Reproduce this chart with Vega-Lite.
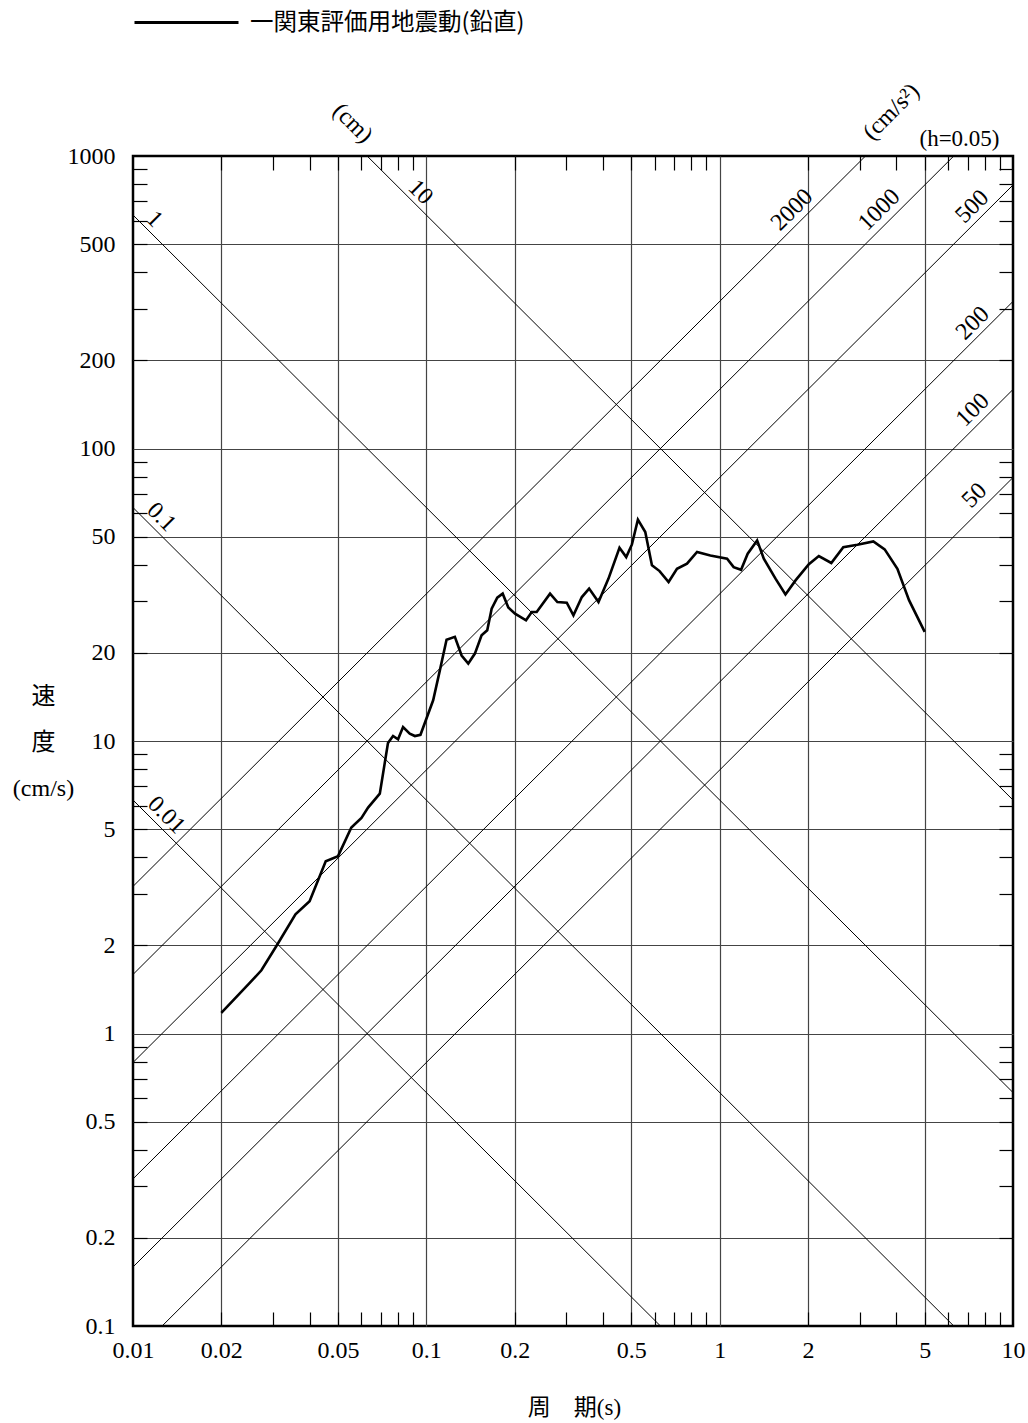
{
  "$schema": "https://vega.github.io/schema/vega-lite/v6.json",
  "width": 880,
  "height": 1170,
  "autosize": {"type": "none"},
  "padding": {"left": 133, "top": 156, "right": 15, "bottom": 97},
  "background": "white",
  "config": {
    "view": {"stroke": "black", "strokeWidth": 2.5},
    "font": "Liberation Serif",
    "axis": {"labelColor": "black", "titleColor": "black"}
  },
  "datasets": {
    "diag": [
      {"line": "D0.01", "T": 0.01, "V": 6.283},
      {"line": "D0.01", "T": 0.6283, "V": 0.1},
      {"line": "D0.1", "T": 0.01, "V": 62.83},
      {"line": "D0.1", "T": 6.283, "V": 0.1},
      {"line": "D1", "T": 0.01, "V": 628.3},
      {"line": "D1", "T": 10, "V": 0.6283},
      {"line": "D10", "T": 0.06283, "V": 1000},
      {"line": "D10", "T": 10, "V": 6.283},
      {"line": "A50", "T": 0.012566, "V": 0.1},
      {"line": "A50", "T": 10, "V": 79.58},
      {"line": "A100", "T": 0.01, "V": 0.15915},
      {"line": "A100", "T": 10, "V": 159.15},
      {"line": "A200", "T": 0.01, "V": 0.3183},
      {"line": "A200", "T": 10, "V": 318.3},
      {"line": "A500", "T": 0.01, "V": 0.7958},
      {"line": "A500", "T": 10, "V": 795.8},
      {"line": "A1000", "T": 0.01, "V": 1.5915},
      {"line": "A1000", "T": 6.283, "V": 1000},
      {"line": "A2000", "T": 0.01, "V": 3.183},
      {"line": "A2000", "T": 3.1416, "V": 1000}
    ],
    "curve": [
      {"series": "一関東評価用地震動(鉛直)", "T": 0.02, "V": 1.176},
      {"series": "一関東評価用地震動(鉛直)", "T": 0.025, "V": 1.489},
      {"series": "一関東評価用地震動(鉛直)", "T": 0.0274, "V": 1.645},
      {"series": "一関東評価用地震動(鉛直)", "T": 0.0309, "V": 2.0},
      {"series": "一関東評価用地震動(鉛直)", "T": 0.0358, "V": 2.557},
      {"series": "一関東評価用地震動(鉛直)", "T": 0.04, "V": 2.832},
      {"series": "一関東評価用地震動(鉛直)", "T": 0.0454, "V": 3.88},
      {"series": "一関東評価用地震動(鉛直)", "T": 0.05, "V": 4.04},
      {"series": "一関東評価用地震動(鉛直)", "T": 0.0555, "V": 5.06},
      {"series": "一関東評価用地震動(鉛直)", "T": 0.0601, "V": 5.46},
      {"series": "一関東評価用地震動(鉛直)", "T": 0.0633, "V": 5.92},
      {"series": "一関東評価用地震動(鉛直)", "T": 0.0694, "V": 6.61},
      {"series": "一関東評価用地震動(鉛直)", "T": 0.074, "V": 9.84},
      {"series": "一関東評価用地震動(鉛直)", "T": 0.077, "V": 10.4},
      {"series": "一関東評価用地震動(鉛直)", "T": 0.0801, "V": 10.13},
      {"series": "一関東評価用地震動(鉛直)", "T": 0.0833, "V": 11.16},
      {"series": "一関東評価用地震動(鉛直)", "T": 0.0878, "V": 10.6},
      {"series": "一関東評価用地震動(鉛直)", "T": 0.0914, "V": 10.4},
      {"series": "一関東評価用地震動(鉛直)", "T": 0.0955, "V": 10.5},
      {"series": "一関東評価用地震動(鉛直)", "T": 0.1055, "V": 13.78},
      {"series": "一関東評価用地震動(鉛直)", "T": 0.1112, "V": 17.44},
      {"series": "一関東評価用地震動(鉛直)", "T": 0.1172, "V": 22.2},
      {"series": "一関東評価用地震動(鉛直)", "T": 0.1251, "V": 22.7},
      {"series": "一関東評価用地震動(鉛直)", "T": 0.1319, "V": 19.6},
      {"series": "一関東評価用地震動(鉛直)", "T": 0.139, "V": 18.4},
      {"series": "一関東評価用地震動(鉛直)", "T": 0.1464, "V": 19.9},
      {"series": "一関東評価用地震動(鉛直)", "T": 0.1543, "V": 22.97},
      {"series": "一関東評価用地震動(鉛直)", "T": 0.1613, "V": 23.9},
      {"series": "一関東評価用地震動(鉛直)", "T": 0.167, "V": 28.35},
      {"series": "一関東評価用地震動(鉛直)", "T": 0.1745, "V": 30.9},
      {"series": "一関東評価用地震動(鉛直)", "T": 0.1821, "V": 31.9},
      {"series": "一関東評価用地震動(鉛直)", "T": 0.1903, "V": 28.6},
      {"series": "一関東評価用地震動(鉛直)", "T": 0.2006, "V": 27.25},
      {"series": "一関東評価用地震動(鉛直)", "T": 0.2187, "V": 25.85},
      {"series": "一関東評価用地震動(鉛直)", "T": 0.2288, "V": 27.6},
      {"series": "一関東評価用地震動(鉛直)", "T": 0.2378, "V": 27.6},
      {"series": "一関東評価用地震動(鉛直)", "T": 0.2641, "V": 31.9},
      {"series": "一関東評価用地震動(鉛直)", "T": 0.2797, "V": 29.86},
      {"series": "一関東評価用地震動(鉛直)", "T": 0.3011, "V": 29.7},
      {"series": "一関東評価用地震動(鉛直)", "T": 0.3173, "V": 26.9},
      {"series": "一関東評価用地震動(鉛直)", "T": 0.339, "V": 31.05},
      {"series": "一関東評価用地震動(鉛直)", "T": 0.3589, "V": 33.2},
      {"series": "一関東評価用地震動(鉛直)", "T": 0.3863, "V": 29.86},
      {"series": "一関東評価用地震動(鉛直)", "T": 0.4178, "V": 35.9},
      {"series": "一関東評価用地震動(鉛直)", "T": 0.4555, "V": 45.8},
      {"series": "一関東評価用地震動(鉛直)", "T": 0.4802, "V": 42.55},
      {"series": "一関東評価用地震動(鉛直)", "T": 0.5022, "V": 47.0},
      {"series": "一関東評価用地震動(鉛直)", "T": 0.5263, "V": 57.1},
      {"series": "一関東評価用地震動(鉛直)", "T": 0.5577, "V": 51.8},
      {"series": "一関東評価用地震動(鉛直)", "T": 0.5876, "V": 39.9},
      {"series": "一関東評価用地震動(鉛直)", "T": 0.6239, "V": 38.1},
      {"series": "一関東評価用地震動(鉛直)", "T": 0.6697, "V": 34.95},
      {"series": "一関東評価用地震動(鉛直)", "T": 0.7153, "V": 38.8},
      {"series": "一関東評価用地震動(鉛直)", "T": 0.7738, "V": 40.4},
      {"series": "一関東評価用地震動(鉛直)", "T": 0.8374, "V": 44.3},
      {"series": "一関東評価用地震動(鉛直)", "T": 0.9295, "V": 43.1},
      {"series": "一関東評価用地震動(鉛直)", "T": 1.06, "V": 42.0},
      {"series": "一関東評価用地震動(鉛直)", "T": 1.116, "V": 39.3},
      {"series": "一関東評価用地震動(鉛直)", "T": 1.183, "V": 38.5},
      {"series": "一関東評価用地震動(鉛直)", "T": 1.246, "V": 43.7},
      {"series": "一関東評価用地震動(鉛直)", "T": 1.342, "V": 48.5},
      {"series": "一関東評価用地震動(鉛直)", "T": 1.414, "V": 42.0},
      {"series": "一関東評価用地震動(鉛直)", "T": 1.55, "V": 35.9},
      {"series": "一関東評価用地震動(鉛直)", "T": 1.676, "V": 31.7},
      {"series": "一関東評価用地震動(鉛直)", "T": 1.814, "V": 35.4},
      {"series": "一関東評価用地震動(鉛直)", "T": 2.014, "V": 40.2},
      {"series": "一関東評価用地震動(鉛直)", "T": 2.178, "V": 42.9},
      {"series": "一関東評価用地震動(鉛直)", "T": 2.402, "V": 40.6},
      {"series": "一関東評価用地震動(鉛直)", "T": 2.639, "V": 46.0},
      {"series": "一関東評価用地震動(鉛直)", "T": 2.947, "V": 46.9},
      {"series": "一関東評価用地震動(鉛直)", "T": 3.341, "V": 48.1},
      {"series": "一関東評価用地震動(鉛直)", "T": 3.652, "V": 45.2},
      {"series": "一関東評価用地震動(鉛直)", "T": 4.036, "V": 38.8},
      {"series": "一関東評価用地震動(鉛直)", "T": 4.421, "V": 30.3},
      {"series": "一関東評価用地震動(鉛直)", "T": 5.0, "V": 23.6}
    ],
    "labels": [
      {"group": "disp", "T": 0.01184, "V": 607.6, "text": "1"},
      {"group": "disp", "T": 0.0955, "V": 751, "text": "10"},
      {"group": "disp", "T": 0.01248, "V": 58.2, "text": "0.1"},
      {"group": "disp", "T": 0.01298, "V": 5.58, "text": "0.01"},
      {"group": "disp", "T": 0.056, "V": 1294, "text": "(cm)"},
      {"group": "acc", "T": 1.764, "V": 654, "text": "2000"},
      {"group": "acc", "T": 3.5, "V": 654, "text": "1000"},
      {"group": "acc", "T": 7.26, "V": 671, "text": "500"},
      {"group": "acc", "T": 7.29, "V": 268, "text": "200"},
      {"group": "acc", "T": 7.29, "V": 135.4, "text": "100"},
      {"group": "acc", "T": 7.39, "V": 69.0, "text": "50"},
      {"group": "acc", "T": 3.85, "V": 1414, "text": "(cm/s²)"},
      {"group": "note", "T": 6.57, "V": 1143, "text": "(h=0.05)"}
    ]
  },
  "resolve": {"axis": {"x": "independent", "y": "independent"}},
  "layer": [
    {
      "data": {"name": "diag"},
      "mark": {"type": "line", "color": "black", "strokeWidth": 1, "clip": true},
      "encoding": {
        "x": {
          "field": "T", "type": "quantitative",
          "scale": {"type": "log", "domain": [0.01, 10], "nice": false},
          "axis": {
            "orient": "bottom",
            "values": [0.01, 0.02, 0.05, 0.1, 0.2, 0.5, 1, 2, 5, 10],
            "format": "~g",
            "domain": false, "ticks": false,
            "grid": true, "gridColor": "#444", "gridWidth": 1.2,
            "gridOpacity": {"condition": {"test": "datum.value <= 0.011 || datum.value >= 9.9", "value": 0}, "value": 1},
            "labelFont": "Liberation Serif", "labelFontSize": 24, "labelPadding": 12,
            "labelFlush": false, "labelOverlap": false, "labelBound": false,
            "title": "周　期(s)", "titleFont": "Liberation Serif, Noto Sans CJK JP", "titleFontSize": 23,
            "titleFontWeight": "normal", "titleX": 441, "titleY": 81, "titleBaseline": "middle", "titleAlign": "center"
          }
        },
        "y": {
          "field": "V", "type": "quantitative",
          "scale": {"type": "log", "domain": [0.1, 1000], "nice": false},
          "axis": {
            "orient": "left",
            "values": [0.1, 0.2, 0.5, 1, 2, 5, 10, 20, 50, 100, 200, 500, 1000],
            "format": "~g",
            "domain": false, "ticks": false,
            "grid": true, "gridColor": "#444", "gridWidth": 1.2,
            "gridOpacity": {"condition": {"test": "datum.value <= 0.11 || datum.value >= 990", "value": 0}, "value": 1},
            "labelFont": "Liberation Serif", "labelFontSize": 24, "labelPadding": 18,
            "labelFlush": false, "labelOverlap": false, "labelBound": false,
            "title": ["速", "度", "(cm/s)"], "titleFont": "Liberation Serif, Noto Sans CJK JP", "titleFontSize": 24,
            "titleFontWeight": "normal", "titleAngle": 0, "titleX": -90, "titleY": 540,
            "titleAlign": "center", "titleBaseline": "middle", "titleLineHeight": 46
          }
        },
        "detail": {"field": "line"}
      }
    },
    {
      "data": {"name": "curve"},
      "mark": {"type": "line", "strokeWidth": 2.6, "clip": true},
      "encoding": {
        "x": {
          "field": "T", "type": "quantitative",
          "axis": {
            "orient": "top",
            "values": [0.02, 0.03, 0.04, 0.05, 0.06, 0.07, 0.08, 0.09, 0.2, 0.3, 0.4, 0.5, 0.6, 0.7, 0.8, 0.9, 2, 3, 4, 5, 6, 7, 8, 9],
            "domain": false, "labels": false, "grid": false, "title": null,
            "ticks": true, "tickSize": 14, "tickColor": "black", "tickWidth": 1.2, "offset": -14
          }
        },
        "y": {
          "field": "V", "type": "quantitative",
          "axis": {
            "orient": "right",
            "values": [0.2, 0.3, 0.4, 0.5, 0.6, 0.7, 0.8, 0.9, 2, 3, 4, 5, 6, 7, 8, 9, 20, 30, 40, 50, 60, 70, 80, 90, 200, 300, 400, 500, 600, 700, 800, 900],
            "domain": false, "labels": false, "grid": false, "title": null,
            "ticks": true, "tickSize": 14, "tickColor": "black", "tickWidth": 1.2, "offset": -14
          }
        },
        "color": {
          "field": "series", "type": "nominal",
          "scale": {"range": ["black"]},
          "legend": {
            "orient": "none", "legendX": 0, "legendY": -187,
            "title": null, "padding": 0,
            "symbolType": "stroke", "symbolSize": 10816, "symbolStrokeWidth": 3,
            "labelFont": "Noto Sans CJK JP", "labelFontSize": 23.5, "labelColor": "black",
            "labelOffset": 10, "labelLimit": 600
          }
        }
      }
    },
    {
      "data": {"name": "labels"},
      "transform": [{"filter": "datum.group === 'disp'"}],
      "mark": {"type": "text", "angle": 45, "align": "center", "baseline": "middle", "font": "Liberation Serif", "fontSize": 24, "color": "black"},
      "encoding": {
        "x": {
          "field": "T", "type": "quantitative",
          "axis": {
            "orient": "bottom",
            "values": [0.02, 0.03, 0.04, 0.05, 0.06, 0.07, 0.08, 0.09, 0.2, 0.3, 0.4, 0.5, 0.6, 0.7, 0.8, 0.9, 2, 3, 4, 5, 6, 7, 8, 9],
            "domain": false, "labels": false, "grid": false, "title": null,
            "ticks": true, "tickSize": 14, "tickColor": "black", "tickWidth": 1.2, "offset": -14
          }
        },
        "y": {
          "field": "V", "type": "quantitative",
          "axis": {
            "orient": "left",
            "values": [0.2, 0.3, 0.4, 0.5, 0.6, 0.7, 0.8, 0.9, 2, 3, 4, 5, 6, 7, 8, 9, 20, 30, 40, 50, 60, 70, 80, 90, 200, 300, 400, 500, 600, 700, 800, 900],
            "domain": false, "labels": false, "grid": false, "title": null,
            "ticks": true, "tickSize": 14, "tickColor": "black", "tickWidth": 1.2, "offset": -14
          }
        },
        "text": {"field": "text"}
      }
    },
    {
      "data": {"name": "labels"},
      "transform": [{"filter": "datum.group === 'acc'"}],
      "mark": {"type": "text", "angle": -45, "align": "center", "baseline": "middle", "font": "Liberation Serif", "fontSize": 24, "color": "black"},
      "encoding": {
        "x": {"field": "T", "type": "quantitative", "axis": null},
        "y": {"field": "V", "type": "quantitative", "axis": null},
        "text": {"field": "text"}
      }
    },
    {
      "data": {"name": "labels"},
      "transform": [{"filter": "datum.group === 'note'"}],
      "mark": {"type": "text", "align": "center", "baseline": "middle", "font": "Liberation Serif", "fontSize": 23, "color": "black"},
      "encoding": {
        "x": {"field": "T", "type": "quantitative", "axis": null},
        "y": {"field": "V", "type": "quantitative", "axis": null},
        "text": {"field": "text"}
      }
    }
  ]
}
